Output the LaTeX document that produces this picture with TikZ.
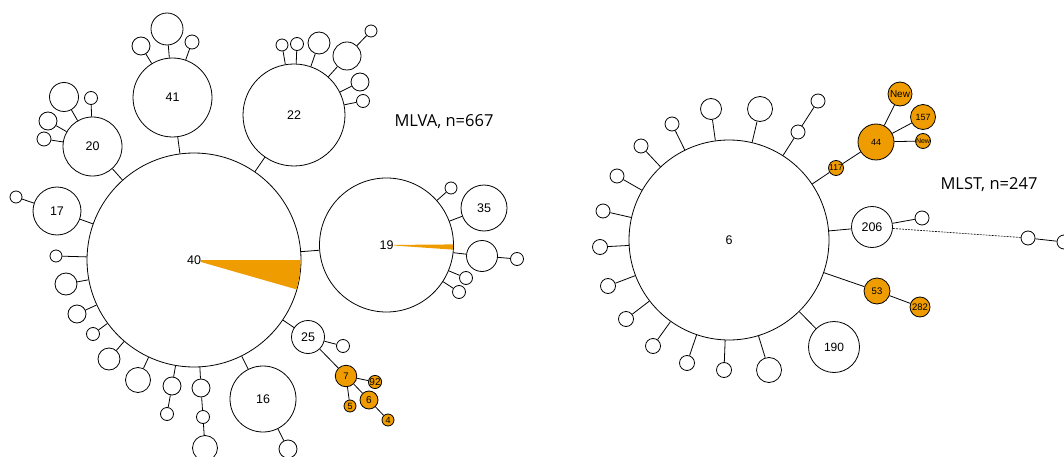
\documentclass[tikz,border=0pt]{standalone}
\usepackage{fontspec}
\setmainfont{Liberation Sans}
\newfontfamily\titlefont{Open Sans}
\definecolor{org}{RGB}{238,156,0}
\tikzset{
  cn/.style={circle,draw=black,line width=0.8pt,inner sep=0pt,minimum size=#1pt,font=\fontsize{12.5}{12.5}\selectfont},
  on/.style={cn=#1,fill=org,font=\fontsize{9}{9}\selectfont},
  ln/.style={draw=black,line width=0.8pt},
  ttl/.style={font=\titlefont\fontsize{16.5}{16.5}\selectfont},
  lb/.style={fill=white,inner sep=0.3pt,font=\fontsize{12.5}{12.5}\selectfont}
}
\begin{document}
\begin{tikzpicture}[x=1pt,y=-1pt]
\useasboundingbox (0,0) rectangle (1064,457);
% ---------------- MLVA ----------------
\node[cn=214] (n40) at (194,260) {};
\fill[org] (n40.center) -- ++(0:106.6pt) arc[start angle=0,end angle=-16,radius=106.6pt] -- cycle;
\node[lb] (l40) at (n40.center) {40};
\node[cn=134] (n19) at (386.5,245) {};
\fill[org] (n19.center) -- ++(0.5:66.6pt) arc[start angle=0.5,end angle=-4,radius=66.6pt] -- cycle;
\node[lb] (l19) at (n19.center) {19};

\node[cn=79] (n41) at (172.5,97.5) {41};
\node[cn=32] (a41a) at (167,29) {};
\node[cn=18] (a41b) at (141,46) {};
\node[cn=14] (a41c) at (192,42) {};
\node[cn=59] (n20) at (92.5,146.5) {20};
\node[cn=29] (a20a) at (64,97) {};
\node[cn=13] (a20b) at (91,98) {};
\node[cn=18] (a20c) at (48,121) {};
\node[cn=14] (a20d) at (44,139) {};
\node[cn=48] (n17) at (57,211) {17};
\node[cn=12] (a17a) at (16,197) {};
\node[cn=102] (n22) at (294,115) {22};
\node[cn=12] (a22a) at (282,45) {};
\node[cn=13] (a22b) at (297,44) {};
\node[cn=22] (a22c) at (319,43) {};
\node[cn=28] (a22d) at (347,56) {};
\node[cn=12] (a22e) at (371,31) {};
\node[cn=18] (a22f) at (360,82) {};
\node[cn=13] (a22g) at (363,101) {};
\node[cn=12] (a19a) at (451,188) {};
\node[cn=46] (n35) at (484,208) {35};
\node[cn=31] (a19b) at (482,256) {};
\node[cn=13] (a19c) at (517,259) {};
\node[cn=13] (a19d) at (466,278) {};
\node[cn=13] (a19e) at (459,292) {};
\node[cn=12] (b1) at (56,256) {};
\node[cn=22] (b2) at (66,284) {};
\node[cn=18] (b3) at (77,314) {};
\node[cn=13] (b4) at (93,334) {};
\node[cn=22] (b5) at (109,359) {};
\node[cn=25] (b6) at (138,380) {};
\node[cn=18] (b7) at (172,386) {};
\node[cn=13] (b7a) at (167,414) {};
\node[cn=18] (b8) at (201,388) {};
\node[cn=13] (b8a) at (203,417) {};
\node[cn=25] (b8b) at (205,448) {};
\node[cn=66] (n16) at (263,399) {16};
\node[cn=18] (a16) at (288,449) {};
\node[cn=33] (n25) at (308,337) {25};
\node[cn=13] (a25) at (343,346) {};
\node[on=21.5,font=\fontsize{9.5}{9.5}\selectfont] (o7) at (346,376) {7};
\node[on=12,font=\fontsize{10}{10}\selectfont] (o92) at (375,382) {92};
\node[on=12] (o5) at (350,406) {5};
\node[on=18,font=\fontsize{10}{10}\selectfont] (o6) at (369,400) {6};
\node[on=12] (o4) at (388,420) {4};

\foreach \a/\b in {n40/n41,n41/a41a,n41/a41b,n41/a41c,n40/n20,n20/a20a,n20/a20b,n20/a20c,n20/a20d,
  n40/n17,n17/a17a,n40/n22,n22/a22a,n22/a22b,n22/a22c,n22/a22d,a22d/a22e,n22/a22f,n22/a22g,
  n40/n19,n19/a19a,n19/n35,n19/a19b,a19b/a19c,n19/a19d,n19/a19e,
  n40/b1,n40/b2,n40/b3,n40/b4,n40/b5,n40/b6,n40/b7,b7/b7a,n40/b8,b8/b8a,b8a/b8b,
  n40/n16,n16/a16,n40/n25,n25/a25,n25/o7,o7/o92,o7/o5,o7/o6,o6/o4}
  \draw[ln] (\a) -- (\b);

\node[ttl] (t1) at (444,122) {MLVA, n=667};

% ---------------- MLST ----------------
\node[cn=200] (n6) at (729,240) {6};
\node[cn=15] (c1) at (600,247) {};
\node[cn=14] (c2) at (603,211) {};
\node[cn=14] (c3) at (617,176) {};
\node[cn=14] (c4) at (641,146) {};
\node[cn=14] (c5) at (672,124) {};
\node[cn=21] (c6) at (711,109) {};
\node[cn=25] (c7) at (760,109) {};
\node[cn=14] (c8) at (798,132) {};
\node[cn=14] (c8a) at (818,101) {};
\node[on=15,font=\fontsize{8.5}{8.5}\selectfont] (o117) at (836,168) {117};
\node[on=36] (o44) at (876,142) {44};
\node[on=24,font=\fontsize{10}{10}\selectfont] (oN1) at (900,94) {New};
\node[on=25] (o157) at (923,117) {157};
\node[on=15,font=\fontsize{7}{7}\selectfont] (oN2) at (923,141) {New};
\node[cn=41] (n206) at (872,227) {206};
\node[cn=14] (c206a) at (922,218) {};
\node[cn=14] (d1) at (1028,238) {};
\node[cn=14] (d2) at (1064,242) {};
\node[on=26,font=\fontsize{9.5}{9.5}\selectfont] (o53) at (877,291) {53};
\node[on=20,font=\fontsize{9.5}{9.5}\selectfont] (o282) at (920,307) {282};
\node[cn=51,font=\fontsize{12}{12}\selectfont] (n190) at (834,347) {190};
\node[cn=15] (c9) at (608,286) {};
\node[cn=15] (c10) at (626,319) {};
\node[cn=15] (c11) at (653,346) {};
\node[cn=15] (c12) at (687,363) {};
\node[cn=15] (c13) at (724,370) {};
\node[cn=25] (c14) at (769,370) {};

\foreach \a/\b in {n6/c1,n6/c2,n6/c3,n6/c4,n6/c5,n6/c6,n6/c7,n6/c8,c8/c8a,
  n6/o117,o117/o44,o44/oN1,o44/o157,o44/oN2,n6/n206,n206/c206a,d1/d2,
  n6/o53,o53/o282,n6/n190,n6/c9,n6/c10,n6/c11,n6/c12,n6/c13,n6/c14}
  \draw[ln] (\a) -- (\b);
\draw[ln,line width=0.6pt,dash pattern=on 2pt off 1pt] (n206) -- (d1);

\node[ttl] (t2) at (989,185) {MLST, n=247};
\end{tikzpicture}
\end{document}
